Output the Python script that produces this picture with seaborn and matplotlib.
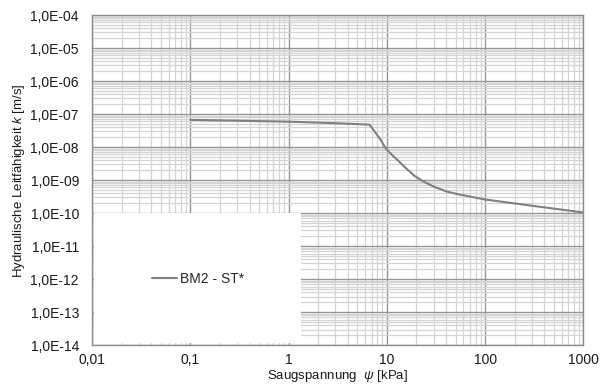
import numpy as np
import pandas as pd
import matplotlib
matplotlib.use("Agg")
import matplotlib.pyplot as plt
import matplotlib.ticker as mticker
from matplotlib.patches import Rectangle
import seaborn as sns

# data
suction_kpa = [0.1, 1.0, 3.0, 6.65, 7.5, 8.6, 9.3, 10.0, 11.3, 12.8, 15.0, 18.9, 23.0, 30.0,
               41.0, 52.0, 100.0, 292.0, 1000.0]
conductivity = [6.7e-8, 5.9e-8, 5.3e-8, 4.8e-8, 3.0e-8, 1.7e-8, 1.15e-8, 8.3e-9, 5.8e-9,
                4.1e-9, 2.6e-9, 1.38e-9, 9.5e-10, 6.4e-10, 4.5e-10, 3.8e-10, 2.6e-10,
                1.7e-10, 1.05e-10]
series_name = "BM2 - ST*"
x_ticks = [0.01, 0.1, 1, 10, 100, 1000]
x_labels = ["0,01", "0,1", "1", "10", "100", "1000"]
y_ticks = [1e-14, 1e-13, 1e-12, 1e-11, 1e-10, 1e-9, 1e-8, 1e-7, 1e-6, 1e-5, 1e-4]

sns.set_style("white")
plt.rcParams['font.family'] = ['Liberation Sans', 'DejaVu Sans']
plt.rcParams['mathtext.fontset'] = 'custom'
plt.rcParams['mathtext.it'] = 'Liberation Sans:italic'
plt.rcParams['mathtext.rm'] = 'Liberation Sans'

df = pd.DataFrame({"psi": suction_kpa, "k": conductivity, "series": series_name})

fig = plt.figure(figsize=(6.06, 3.89), dpi=100)
ax = fig.add_axes([0.152, 0.1123, 0.8106, 0.8491])

sns.lineplot(data=df, x="psi", y="k", hue="series", palette=["#808080"], linewidth=1.5,
             ax=ax, zorder=5, legend=False)

ax.set_xscale("log")
ax.set_yscale("log")
ax.set_xlim(0.01, 1000)
ax.set_ylim(1e-14, 1e-4)

ax.set_xticks(x_ticks)
ax.set_xticklabels(x_labels)
ax.set_yticks(y_ticks)
ax.yaxis.set_major_formatter(mticker.FuncFormatter(
    lambda v, p: ("%.1E" % v).replace(".", ",")))
ax.xaxis.set_minor_locator(mticker.LogLocator(base=10, subs=np.arange(2, 10), numticks=20))
ax.yaxis.set_minor_locator(mticker.LogLocator(base=10, subs=np.arange(2, 10), numticks=20))
ax.xaxis.set_minor_formatter(mticker.NullFormatter())
ax.yaxis.set_minor_formatter(mticker.NullFormatter())

ax.grid(which="major", color="#959595", linewidth=1.0)
ax.grid(which="minor", color="#d4d4d4", linewidth=0.9)
ax.set_axisbelow(True)

for s in ax.spines.values():
    s.set_color("#8c8c8c")
    s.set_linewidth(1.0)

ax.tick_params(axis="both", which="both", direction="in", color="#8c8c8c",
               labelsize=10, labelcolor="#1a1a1a")
ax.tick_params(axis="x", which="major", length=0, pad=5.5)
ax.tick_params(axis="y", which="major", length=0, pad=9.5)
ax.tick_params(axis="both", which="minor", length=2)

ax.set_xlabel(r"Saugspannung  $\mathit{\psi}$ [kPa]", fontsize=9.5, color="#1a1a1a", labelpad=1)
ax.set_ylabel(r"Hydraulische Leitfähigkeit $\mathit{k}$ [m/s]", fontsize=9.5,
              color="#1a1a1a", labelpad=2.5)

# white legend area
ax.add_patch(Rectangle((0.003, 0.007), 0.422, 0.393, transform=ax.transAxes,
                       facecolor="white", edgecolor="none", zorder=3))
handle = plt.Line2D([], [], color="#808080", linewidth=1.5)
ax.legend([handle], [series_name], loc="center", bbox_to_anchor=(0.215, 0.2),
          frameon=False, fontsize=10, handlelength=1.8, handletextpad=0.2)

fig.savefig("out.png", dpi=100)
